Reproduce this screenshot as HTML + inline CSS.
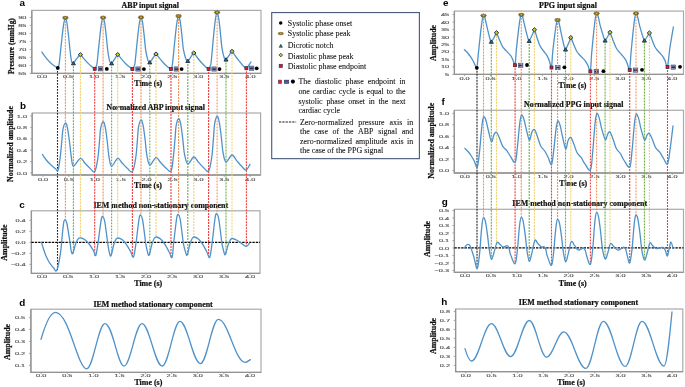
<!DOCTYPE html>
<html><head><meta charset="utf-8"><title>IEM figure</title>
<style>html,body{margin:0;padding:0;background:#fff;width:685px;height:387px;overflow:hidden;}svg{display:block;will-change:transform;}</style>
</head><body>
<svg width="685" height="387" viewBox="0 0 685 387">
<style>.tk{font-family:"Liberation Sans",sans-serif;fill:#555;stroke:#555;stroke-width:0.12px;}.tt{font-family:"Liberation Serif",serif;font-weight:bold;fill:#111;stroke:#111;stroke-width:0.22px;}.lt{font-family:"Liberation Sans",sans-serif;font-weight:bold;font-size:9.9px;fill:#000;}.lg{font-family:"Liberation Serif",serif;font-size:7.95px;fill:#111;stroke:#111;stroke-width:0.08px;}</style>
<rect width="685" height="387" fill="#fff"/>
<rect x="31.8" y="10.4" width="229.2" height="63" fill="none" stroke="#aaaaaa" stroke-width="1.2"/>
<path d="M31.8,10.4 V73.4 H261" fill="none" stroke="#939393" stroke-width="1.3"/>
<rect x="32.2" y="113" width="228.4" height="62" fill="none" stroke="#aaaaaa" stroke-width="1.2"/>
<path d="M32.2,113 V175 H260.6" fill="none" stroke="#939393" stroke-width="1.3"/>
<rect x="31.4" y="210.8" width="228.6" height="62.6" fill="none" stroke="#aaaaaa" stroke-width="1.2"/>
<path d="M31.4,210.8 V273.4 H260" fill="none" stroke="#939393" stroke-width="1.3"/>
<rect x="30.9" y="309.2" width="230.1" height="63.2" fill="none" stroke="#aaaaaa" stroke-width="1.2"/>
<path d="M30.9,309.2 V372.4 H261" fill="none" stroke="#939393" stroke-width="1.3"/>
<rect x="454.4" y="11.1" width="229.1" height="63.3" fill="none" stroke="#aaaaaa" stroke-width="1.2"/>
<path d="M454.4,11.1 V74.4 H683.5" fill="none" stroke="#939393" stroke-width="1.3"/>
<rect x="454.3" y="110.3" width="229.2" height="62.7" fill="none" stroke="#aaaaaa" stroke-width="1.2"/>
<path d="M454.3,110.3 V173 H683.5" fill="none" stroke="#939393" stroke-width="1.3"/>
<rect x="454.4" y="209.3" width="229.1" height="63" fill="none" stroke="#aaaaaa" stroke-width="1.2"/>
<path d="M454.4,209.3 V272.3 H683.5" fill="none" stroke="#939393" stroke-width="1.3"/>
<rect x="455.6" y="309" width="227.2" height="62.7" fill="none" stroke="#aaaaaa" stroke-width="1.2"/>
<path d="M455.6,309 V371.7 H682.8" fill="none" stroke="#939393" stroke-width="1.3"/>
<line x1="29.8" y1="73.4" x2="31.8" y2="73.4" stroke="#939393" stroke-width="0.8"/>
<text x="26.4" y="74.9" text-anchor="end" font-size="3.6" textLength="8.2" lengthAdjust="spacingAndGlyphs" class="tk">55</text>
<line x1="29.8" y1="65.4" x2="31.8" y2="65.4" stroke="#939393" stroke-width="0.8"/>
<text x="26.4" y="66.9" text-anchor="end" font-size="3.6" textLength="8.2" lengthAdjust="spacingAndGlyphs" class="tk">60</text>
<line x1="29.8" y1="57.4" x2="31.8" y2="57.4" stroke="#939393" stroke-width="0.8"/>
<text x="26.4" y="58.9" text-anchor="end" font-size="3.6" textLength="8.2" lengthAdjust="spacingAndGlyphs" class="tk">65</text>
<line x1="29.8" y1="49.4" x2="31.8" y2="49.4" stroke="#939393" stroke-width="0.8"/>
<text x="26.4" y="50.9" text-anchor="end" font-size="3.6" textLength="8.2" lengthAdjust="spacingAndGlyphs" class="tk">70</text>
<line x1="29.8" y1="41.4" x2="31.8" y2="41.4" stroke="#939393" stroke-width="0.8"/>
<text x="26.4" y="42.9" text-anchor="end" font-size="3.6" textLength="8.2" lengthAdjust="spacingAndGlyphs" class="tk">75</text>
<line x1="29.8" y1="33.4" x2="31.8" y2="33.4" stroke="#939393" stroke-width="0.8"/>
<text x="26.4" y="34.9" text-anchor="end" font-size="3.6" textLength="8.2" lengthAdjust="spacingAndGlyphs" class="tk">80</text>
<line x1="29.8" y1="25.4" x2="31.8" y2="25.4" stroke="#939393" stroke-width="0.8"/>
<text x="26.4" y="26.9" text-anchor="end" font-size="3.6" textLength="8.2" lengthAdjust="spacingAndGlyphs" class="tk">85</text>
<line x1="29.8" y1="17.4" x2="31.8" y2="17.4" stroke="#939393" stroke-width="0.8"/>
<text x="26.4" y="18.9" text-anchor="end" font-size="3.6" textLength="8.2" lengthAdjust="spacingAndGlyphs" class="tk">90</text>
<line x1="30.2" y1="173" x2="32.2" y2="173" stroke="#939393" stroke-width="0.8"/>
<text x="27" y="174.5" text-anchor="end" font-size="3.6" textLength="10.2" lengthAdjust="spacingAndGlyphs" class="tk">0.0</text>
<line x1="30.2" y1="161.6" x2="32.2" y2="161.6" stroke="#939393" stroke-width="0.8"/>
<text x="27" y="163.1" text-anchor="end" font-size="3.6" textLength="10.2" lengthAdjust="spacingAndGlyphs" class="tk">0.2</text>
<line x1="30.2" y1="150.2" x2="32.2" y2="150.2" stroke="#939393" stroke-width="0.8"/>
<text x="27" y="151.7" text-anchor="end" font-size="3.6" textLength="10.2" lengthAdjust="spacingAndGlyphs" class="tk">0.4</text>
<line x1="30.2" y1="138.8" x2="32.2" y2="138.8" stroke="#939393" stroke-width="0.8"/>
<text x="27" y="140.3" text-anchor="end" font-size="3.6" textLength="10.2" lengthAdjust="spacingAndGlyphs" class="tk">0.6</text>
<line x1="30.2" y1="127.4" x2="32.2" y2="127.4" stroke="#939393" stroke-width="0.8"/>
<text x="27" y="128.9" text-anchor="end" font-size="3.6" textLength="10.2" lengthAdjust="spacingAndGlyphs" class="tk">0.8</text>
<line x1="30.2" y1="116" x2="32.2" y2="116" stroke="#939393" stroke-width="0.8"/>
<text x="27" y="117.5" text-anchor="end" font-size="3.6" textLength="10.2" lengthAdjust="spacingAndGlyphs" class="tk">1.0</text>
<line x1="29.4" y1="264.4" x2="31.4" y2="264.4" stroke="#939393" stroke-width="0.8"/>
<text x="25.6" y="265.9" text-anchor="end" font-size="3.6" textLength="14.7" lengthAdjust="spacingAndGlyphs" class="tk">−0.4</text>
<line x1="29.4" y1="253.4" x2="31.4" y2="253.4" stroke="#939393" stroke-width="0.8"/>
<text x="25.6" y="254.9" text-anchor="end" font-size="3.6" textLength="14.7" lengthAdjust="spacingAndGlyphs" class="tk">−0.2</text>
<line x1="29.4" y1="242.4" x2="31.4" y2="242.4" stroke="#939393" stroke-width="0.8"/>
<text x="25.6" y="243.9" text-anchor="end" font-size="3.6" textLength="10.2" lengthAdjust="spacingAndGlyphs" class="tk">0.0</text>
<line x1="29.4" y1="231.4" x2="31.4" y2="231.4" stroke="#939393" stroke-width="0.8"/>
<text x="25.6" y="232.9" text-anchor="end" font-size="3.6" textLength="10.2" lengthAdjust="spacingAndGlyphs" class="tk">0.2</text>
<line x1="29.4" y1="220.4" x2="31.4" y2="220.4" stroke="#939393" stroke-width="0.8"/>
<text x="25.6" y="221.9" text-anchor="end" font-size="3.6" textLength="10.2" lengthAdjust="spacingAndGlyphs" class="tk">0.4</text>
<line x1="28.9" y1="365.4" x2="30.9" y2="365.4" stroke="#939393" stroke-width="0.8"/>
<text x="25.2" y="366.9" text-anchor="end" font-size="3.6" textLength="10.2" lengthAdjust="spacingAndGlyphs" class="tk">0.1</text>
<line x1="28.9" y1="353.4" x2="30.9" y2="353.4" stroke="#939393" stroke-width="0.8"/>
<text x="25.2" y="354.9" text-anchor="end" font-size="3.6" textLength="10.2" lengthAdjust="spacingAndGlyphs" class="tk">0.2</text>
<line x1="28.9" y1="341.4" x2="30.9" y2="341.4" stroke="#939393" stroke-width="0.8"/>
<text x="25.2" y="342.9" text-anchor="end" font-size="3.6" textLength="10.2" lengthAdjust="spacingAndGlyphs" class="tk">0.3</text>
<line x1="28.9" y1="329.4" x2="30.9" y2="329.4" stroke="#939393" stroke-width="0.8"/>
<text x="25.2" y="330.9" text-anchor="end" font-size="3.6" textLength="10.2" lengthAdjust="spacingAndGlyphs" class="tk">0.4</text>
<line x1="28.9" y1="317.4" x2="30.9" y2="317.4" stroke="#939393" stroke-width="0.8"/>
<text x="25.2" y="318.9" text-anchor="end" font-size="3.6" textLength="10.2" lengthAdjust="spacingAndGlyphs" class="tk">0.5</text>
<line x1="452.4" y1="74.4" x2="454.4" y2="74.4" stroke="#939393" stroke-width="0.8"/>
<text x="449.2" y="75.9" text-anchor="end" font-size="3.6" textLength="4.1" lengthAdjust="spacingAndGlyphs" class="tk">5</text>
<line x1="452.4" y1="66.93" x2="454.4" y2="66.93" stroke="#939393" stroke-width="0.8"/>
<text x="449.2" y="68.43" text-anchor="end" font-size="3.6" textLength="8.2" lengthAdjust="spacingAndGlyphs" class="tk">10</text>
<line x1="452.4" y1="59.45" x2="454.4" y2="59.45" stroke="#939393" stroke-width="0.8"/>
<text x="449.2" y="60.95" text-anchor="end" font-size="3.6" textLength="8.2" lengthAdjust="spacingAndGlyphs" class="tk">15</text>
<line x1="452.4" y1="51.98" x2="454.4" y2="51.98" stroke="#939393" stroke-width="0.8"/>
<text x="449.2" y="53.48" text-anchor="end" font-size="3.6" textLength="8.2" lengthAdjust="spacingAndGlyphs" class="tk">20</text>
<line x1="452.4" y1="44.5" x2="454.4" y2="44.5" stroke="#939393" stroke-width="0.8"/>
<text x="449.2" y="46" text-anchor="end" font-size="3.6" textLength="8.2" lengthAdjust="spacingAndGlyphs" class="tk">25</text>
<line x1="452.4" y1="37.03" x2="454.4" y2="37.03" stroke="#939393" stroke-width="0.8"/>
<text x="449.2" y="38.53" text-anchor="end" font-size="3.6" textLength="8.2" lengthAdjust="spacingAndGlyphs" class="tk">30</text>
<line x1="452.4" y1="29.55" x2="454.4" y2="29.55" stroke="#939393" stroke-width="0.8"/>
<text x="449.2" y="31.05" text-anchor="end" font-size="3.6" textLength="8.2" lengthAdjust="spacingAndGlyphs" class="tk">35</text>
<line x1="452.4" y1="22.08" x2="454.4" y2="22.08" stroke="#939393" stroke-width="0.8"/>
<text x="449.2" y="23.58" text-anchor="end" font-size="3.6" textLength="8.2" lengthAdjust="spacingAndGlyphs" class="tk">40</text>
<line x1="452.4" y1="14.6" x2="454.4" y2="14.6" stroke="#939393" stroke-width="0.8"/>
<text x="449.2" y="16.1" text-anchor="end" font-size="3.6" textLength="8.2" lengthAdjust="spacingAndGlyphs" class="tk">45</text>
<line x1="452.3" y1="170.4" x2="454.3" y2="170.4" stroke="#939393" stroke-width="0.8"/>
<text x="449.2" y="171.9" text-anchor="end" font-size="3.6" textLength="10.2" lengthAdjust="spacingAndGlyphs" class="tk">0.0</text>
<line x1="452.3" y1="159" x2="454.3" y2="159" stroke="#939393" stroke-width="0.8"/>
<text x="449.2" y="160.5" text-anchor="end" font-size="3.6" textLength="10.2" lengthAdjust="spacingAndGlyphs" class="tk">0.2</text>
<line x1="452.3" y1="147.6" x2="454.3" y2="147.6" stroke="#939393" stroke-width="0.8"/>
<text x="449.2" y="149.1" text-anchor="end" font-size="3.6" textLength="10.2" lengthAdjust="spacingAndGlyphs" class="tk">0.4</text>
<line x1="452.3" y1="136.2" x2="454.3" y2="136.2" stroke="#939393" stroke-width="0.8"/>
<text x="449.2" y="137.7" text-anchor="end" font-size="3.6" textLength="10.2" lengthAdjust="spacingAndGlyphs" class="tk">0.6</text>
<line x1="452.3" y1="124.8" x2="454.3" y2="124.8" stroke="#939393" stroke-width="0.8"/>
<text x="449.2" y="126.3" text-anchor="end" font-size="3.6" textLength="10.2" lengthAdjust="spacingAndGlyphs" class="tk">0.8</text>
<line x1="452.3" y1="113.4" x2="454.3" y2="113.4" stroke="#939393" stroke-width="0.8"/>
<text x="449.2" y="114.9" text-anchor="end" font-size="3.6" textLength="10.2" lengthAdjust="spacingAndGlyphs" class="tk">1.0</text>
<line x1="452.4" y1="270.5" x2="454.4" y2="270.5" stroke="#939393" stroke-width="0.8"/>
<text x="449.2" y="272" text-anchor="end" font-size="3.6" textLength="14.7" lengthAdjust="spacingAndGlyphs" class="tk">−0.3</text>
<line x1="452.4" y1="263" x2="454.4" y2="263" stroke="#939393" stroke-width="0.8"/>
<text x="449.2" y="264.5" text-anchor="end" font-size="3.6" textLength="14.7" lengthAdjust="spacingAndGlyphs" class="tk">−0.2</text>
<line x1="452.4" y1="255.5" x2="454.4" y2="255.5" stroke="#939393" stroke-width="0.8"/>
<text x="449.2" y="257" text-anchor="end" font-size="3.6" textLength="14.7" lengthAdjust="spacingAndGlyphs" class="tk">−0.1</text>
<line x1="452.4" y1="248" x2="454.4" y2="248" stroke="#939393" stroke-width="0.8"/>
<text x="449.2" y="249.5" text-anchor="end" font-size="3.6" textLength="10.2" lengthAdjust="spacingAndGlyphs" class="tk">0.0</text>
<line x1="452.4" y1="240.5" x2="454.4" y2="240.5" stroke="#939393" stroke-width="0.8"/>
<text x="449.2" y="242" text-anchor="end" font-size="3.6" textLength="10.2" lengthAdjust="spacingAndGlyphs" class="tk">0.1</text>
<line x1="452.4" y1="233" x2="454.4" y2="233" stroke="#939393" stroke-width="0.8"/>
<text x="449.2" y="234.5" text-anchor="end" font-size="3.6" textLength="10.2" lengthAdjust="spacingAndGlyphs" class="tk">0.2</text>
<line x1="452.4" y1="225.5" x2="454.4" y2="225.5" stroke="#939393" stroke-width="0.8"/>
<text x="449.2" y="227" text-anchor="end" font-size="3.6" textLength="10.2" lengthAdjust="spacingAndGlyphs" class="tk">0.3</text>
<line x1="452.4" y1="218" x2="454.4" y2="218" stroke="#939393" stroke-width="0.8"/>
<text x="449.2" y="219.5" text-anchor="end" font-size="3.6" textLength="10.2" lengthAdjust="spacingAndGlyphs" class="tk">0.4</text>
<line x1="452.4" y1="210.5" x2="454.4" y2="210.5" stroke="#939393" stroke-width="0.8"/>
<text x="449.2" y="212" text-anchor="end" font-size="3.6" textLength="10.2" lengthAdjust="spacingAndGlyphs" class="tk">0.5</text>
<line x1="453.6" y1="365.4" x2="455.6" y2="365.4" stroke="#939393" stroke-width="0.8"/>
<text x="450" y="366.9" text-anchor="end" font-size="3.6" textLength="10.2" lengthAdjust="spacingAndGlyphs" class="tk">0.2</text>
<line x1="453.6" y1="356.4" x2="455.6" y2="356.4" stroke="#939393" stroke-width="0.8"/>
<text x="450" y="357.9" text-anchor="end" font-size="3.6" textLength="10.2" lengthAdjust="spacingAndGlyphs" class="tk">0.3</text>
<line x1="453.6" y1="347.4" x2="455.6" y2="347.4" stroke="#939393" stroke-width="0.8"/>
<text x="450" y="348.9" text-anchor="end" font-size="3.6" textLength="10.2" lengthAdjust="spacingAndGlyphs" class="tk">0.4</text>
<line x1="453.6" y1="338.4" x2="455.6" y2="338.4" stroke="#939393" stroke-width="0.8"/>
<text x="450" y="339.9" text-anchor="end" font-size="3.6" textLength="10.2" lengthAdjust="spacingAndGlyphs" class="tk">0.5</text>
<line x1="453.6" y1="329.4" x2="455.6" y2="329.4" stroke="#939393" stroke-width="0.8"/>
<text x="450" y="330.9" text-anchor="end" font-size="3.6" textLength="10.2" lengthAdjust="spacingAndGlyphs" class="tk">0.6</text>
<line x1="453.6" y1="320.4" x2="455.6" y2="320.4" stroke="#939393" stroke-width="0.8"/>
<text x="450" y="321.9" text-anchor="end" font-size="3.6" textLength="10.2" lengthAdjust="spacingAndGlyphs" class="tk">0.7</text>
<line x1="453.6" y1="311.4" x2="455.6" y2="311.4" stroke="#939393" stroke-width="0.8"/>
<text x="450" y="312.9" text-anchor="end" font-size="3.6" textLength="10.2" lengthAdjust="spacingAndGlyphs" class="tk">0.8</text>
<line x1="42" y1="73.4" x2="42" y2="75.2" stroke="#939393" stroke-width="0.8"/>
<text x="42" y="78.3" text-anchor="middle" font-size="3.6" textLength="10.2" lengthAdjust="spacingAndGlyphs" class="tk">0.0</text>
<line x1="68.05" y1="73.4" x2="68.05" y2="75.2" stroke="#939393" stroke-width="0.8"/>
<text x="68.05" y="78.3" text-anchor="middle" font-size="3.6" textLength="10.2" lengthAdjust="spacingAndGlyphs" class="tk">0.5</text>
<line x1="94.1" y1="73.4" x2="94.1" y2="75.2" stroke="#939393" stroke-width="0.8"/>
<text x="94.1" y="78.3" text-anchor="middle" font-size="3.6" textLength="10.2" lengthAdjust="spacingAndGlyphs" class="tk">1.0</text>
<line x1="120.15" y1="73.4" x2="120.15" y2="75.2" stroke="#939393" stroke-width="0.8"/>
<text x="120.15" y="78.3" text-anchor="middle" font-size="3.6" textLength="10.2" lengthAdjust="spacingAndGlyphs" class="tk">1.5</text>
<line x1="146.2" y1="73.4" x2="146.2" y2="75.2" stroke="#939393" stroke-width="0.8"/>
<text x="146.2" y="78.3" text-anchor="middle" font-size="3.6" textLength="10.2" lengthAdjust="spacingAndGlyphs" class="tk">2.0</text>
<line x1="172.25" y1="73.4" x2="172.25" y2="75.2" stroke="#939393" stroke-width="0.8"/>
<text x="172.25" y="78.3" text-anchor="middle" font-size="3.6" textLength="10.2" lengthAdjust="spacingAndGlyphs" class="tk">2.5</text>
<line x1="198.3" y1="73.4" x2="198.3" y2="75.2" stroke="#939393" stroke-width="0.8"/>
<text x="198.3" y="78.3" text-anchor="middle" font-size="3.6" textLength="10.2" lengthAdjust="spacingAndGlyphs" class="tk">3.0</text>
<line x1="224.35" y1="73.4" x2="224.35" y2="75.2" stroke="#939393" stroke-width="0.8"/>
<text x="224.35" y="78.3" text-anchor="middle" font-size="3.6" textLength="10.2" lengthAdjust="spacingAndGlyphs" class="tk">3.5</text>
<line x1="250.4" y1="73.4" x2="250.4" y2="75.2" stroke="#939393" stroke-width="0.8"/>
<text x="250.4" y="78.3" text-anchor="middle" font-size="3.6" textLength="10.2" lengthAdjust="spacingAndGlyphs" class="tk">4.0</text>
<line x1="43" y1="175" x2="43" y2="176.8" stroke="#939393" stroke-width="0.8"/>
<text x="43" y="180.7" text-anchor="middle" font-size="3.6" textLength="10.2" lengthAdjust="spacingAndGlyphs" class="tk">0.0</text>
<line x1="68.9" y1="175" x2="68.9" y2="176.8" stroke="#939393" stroke-width="0.8"/>
<text x="68.9" y="180.7" text-anchor="middle" font-size="3.6" textLength="10.2" lengthAdjust="spacingAndGlyphs" class="tk">0.5</text>
<line x1="94.8" y1="175" x2="94.8" y2="176.8" stroke="#939393" stroke-width="0.8"/>
<text x="94.8" y="180.7" text-anchor="middle" font-size="3.6" textLength="10.2" lengthAdjust="spacingAndGlyphs" class="tk">1.0</text>
<line x1="120.7" y1="175" x2="120.7" y2="176.8" stroke="#939393" stroke-width="0.8"/>
<text x="120.7" y="180.7" text-anchor="middle" font-size="3.6" textLength="10.2" lengthAdjust="spacingAndGlyphs" class="tk">1.5</text>
<line x1="146.6" y1="175" x2="146.6" y2="176.8" stroke="#939393" stroke-width="0.8"/>
<text x="146.6" y="180.7" text-anchor="middle" font-size="3.6" textLength="10.2" lengthAdjust="spacingAndGlyphs" class="tk">2.0</text>
<line x1="172.5" y1="175" x2="172.5" y2="176.8" stroke="#939393" stroke-width="0.8"/>
<text x="172.5" y="180.7" text-anchor="middle" font-size="3.6" textLength="10.2" lengthAdjust="spacingAndGlyphs" class="tk">2.5</text>
<line x1="198.4" y1="175" x2="198.4" y2="176.8" stroke="#939393" stroke-width="0.8"/>
<text x="198.4" y="180.7" text-anchor="middle" font-size="3.6" textLength="10.2" lengthAdjust="spacingAndGlyphs" class="tk">3.0</text>
<line x1="224.3" y1="175" x2="224.3" y2="176.8" stroke="#939393" stroke-width="0.8"/>
<text x="224.3" y="180.7" text-anchor="middle" font-size="3.6" textLength="10.2" lengthAdjust="spacingAndGlyphs" class="tk">3.5</text>
<line x1="250.2" y1="175" x2="250.2" y2="176.8" stroke="#939393" stroke-width="0.8"/>
<text x="250.2" y="180.7" text-anchor="middle" font-size="3.6" textLength="10.2" lengthAdjust="spacingAndGlyphs" class="tk">4.0</text>
<line x1="42" y1="273.4" x2="42" y2="275.2" stroke="#939393" stroke-width="0.8"/>
<text x="42" y="278.3" text-anchor="middle" font-size="3.6" textLength="10.2" lengthAdjust="spacingAndGlyphs" class="tk">0.0</text>
<line x1="68" y1="273.4" x2="68" y2="275.2" stroke="#939393" stroke-width="0.8"/>
<text x="68" y="278.3" text-anchor="middle" font-size="3.6" textLength="10.2" lengthAdjust="spacingAndGlyphs" class="tk">0.5</text>
<line x1="94" y1="273.4" x2="94" y2="275.2" stroke="#939393" stroke-width="0.8"/>
<text x="94" y="278.3" text-anchor="middle" font-size="3.6" textLength="10.2" lengthAdjust="spacingAndGlyphs" class="tk">1.0</text>
<line x1="120" y1="273.4" x2="120" y2="275.2" stroke="#939393" stroke-width="0.8"/>
<text x="120" y="278.3" text-anchor="middle" font-size="3.6" textLength="10.2" lengthAdjust="spacingAndGlyphs" class="tk">1.5</text>
<line x1="146" y1="273.4" x2="146" y2="275.2" stroke="#939393" stroke-width="0.8"/>
<text x="146" y="278.3" text-anchor="middle" font-size="3.6" textLength="10.2" lengthAdjust="spacingAndGlyphs" class="tk">2.0</text>
<line x1="172" y1="273.4" x2="172" y2="275.2" stroke="#939393" stroke-width="0.8"/>
<text x="172" y="278.3" text-anchor="middle" font-size="3.6" textLength="10.2" lengthAdjust="spacingAndGlyphs" class="tk">2.5</text>
<line x1="198" y1="273.4" x2="198" y2="275.2" stroke="#939393" stroke-width="0.8"/>
<text x="198" y="278.3" text-anchor="middle" font-size="3.6" textLength="10.2" lengthAdjust="spacingAndGlyphs" class="tk">3.0</text>
<line x1="224" y1="273.4" x2="224" y2="275.2" stroke="#939393" stroke-width="0.8"/>
<text x="224" y="278.3" text-anchor="middle" font-size="3.6" textLength="10.2" lengthAdjust="spacingAndGlyphs" class="tk">3.5</text>
<line x1="250" y1="273.4" x2="250" y2="275.2" stroke="#939393" stroke-width="0.8"/>
<text x="250" y="278.3" text-anchor="middle" font-size="3.6" textLength="10.2" lengthAdjust="spacingAndGlyphs" class="tk">4.0</text>
<line x1="41.2" y1="372.4" x2="41.2" y2="374.2" stroke="#939393" stroke-width="0.8"/>
<text x="41.2" y="377.2" text-anchor="middle" font-size="3.6" textLength="10.2" lengthAdjust="spacingAndGlyphs" class="tk">0.0</text>
<line x1="67.3" y1="372.4" x2="67.3" y2="374.2" stroke="#939393" stroke-width="0.8"/>
<text x="67.3" y="377.2" text-anchor="middle" font-size="3.6" textLength="10.2" lengthAdjust="spacingAndGlyphs" class="tk">0.5</text>
<line x1="93.4" y1="372.4" x2="93.4" y2="374.2" stroke="#939393" stroke-width="0.8"/>
<text x="93.4" y="377.2" text-anchor="middle" font-size="3.6" textLength="10.2" lengthAdjust="spacingAndGlyphs" class="tk">1.0</text>
<line x1="119.5" y1="372.4" x2="119.5" y2="374.2" stroke="#939393" stroke-width="0.8"/>
<text x="119.5" y="377.2" text-anchor="middle" font-size="3.6" textLength="10.2" lengthAdjust="spacingAndGlyphs" class="tk">1.5</text>
<line x1="145.6" y1="372.4" x2="145.6" y2="374.2" stroke="#939393" stroke-width="0.8"/>
<text x="145.6" y="377.2" text-anchor="middle" font-size="3.6" textLength="10.2" lengthAdjust="spacingAndGlyphs" class="tk">2.0</text>
<line x1="171.7" y1="372.4" x2="171.7" y2="374.2" stroke="#939393" stroke-width="0.8"/>
<text x="171.7" y="377.2" text-anchor="middle" font-size="3.6" textLength="10.2" lengthAdjust="spacingAndGlyphs" class="tk">2.5</text>
<line x1="197.8" y1="372.4" x2="197.8" y2="374.2" stroke="#939393" stroke-width="0.8"/>
<text x="197.8" y="377.2" text-anchor="middle" font-size="3.6" textLength="10.2" lengthAdjust="spacingAndGlyphs" class="tk">3.0</text>
<line x1="223.9" y1="372.4" x2="223.9" y2="374.2" stroke="#939393" stroke-width="0.8"/>
<text x="223.9" y="377.2" text-anchor="middle" font-size="3.6" textLength="10.2" lengthAdjust="spacingAndGlyphs" class="tk">3.5</text>
<line x1="250" y1="372.4" x2="250" y2="374.2" stroke="#939393" stroke-width="0.8"/>
<text x="250" y="377.2" text-anchor="middle" font-size="3.6" textLength="10.2" lengthAdjust="spacingAndGlyphs" class="tk">4.0</text>
<line x1="464.6" y1="74.4" x2="464.6" y2="76.2" stroke="#939393" stroke-width="0.8"/>
<text x="464.6" y="79.7" text-anchor="middle" font-size="3.6" textLength="10.2" lengthAdjust="spacingAndGlyphs" class="tk">0.0</text>
<line x1="490.55" y1="74.4" x2="490.55" y2="76.2" stroke="#939393" stroke-width="0.8"/>
<text x="490.55" y="79.7" text-anchor="middle" font-size="3.6" textLength="10.2" lengthAdjust="spacingAndGlyphs" class="tk">0.5</text>
<line x1="516.5" y1="74.4" x2="516.5" y2="76.2" stroke="#939393" stroke-width="0.8"/>
<text x="516.5" y="79.7" text-anchor="middle" font-size="3.6" textLength="10.2" lengthAdjust="spacingAndGlyphs" class="tk">1.0</text>
<line x1="542.45" y1="74.4" x2="542.45" y2="76.2" stroke="#939393" stroke-width="0.8"/>
<text x="542.45" y="79.7" text-anchor="middle" font-size="3.6" textLength="10.2" lengthAdjust="spacingAndGlyphs" class="tk">1.5</text>
<line x1="568.4" y1="74.4" x2="568.4" y2="76.2" stroke="#939393" stroke-width="0.8"/>
<text x="568.4" y="79.7" text-anchor="middle" font-size="3.6" textLength="10.2" lengthAdjust="spacingAndGlyphs" class="tk">2.0</text>
<line x1="594.35" y1="74.4" x2="594.35" y2="76.2" stroke="#939393" stroke-width="0.8"/>
<text x="594.35" y="79.7" text-anchor="middle" font-size="3.6" textLength="10.2" lengthAdjust="spacingAndGlyphs" class="tk">2.5</text>
<line x1="620.3" y1="74.4" x2="620.3" y2="76.2" stroke="#939393" stroke-width="0.8"/>
<text x="620.3" y="79.7" text-anchor="middle" font-size="3.6" textLength="10.2" lengthAdjust="spacingAndGlyphs" class="tk">3.0</text>
<line x1="646.25" y1="74.4" x2="646.25" y2="76.2" stroke="#939393" stroke-width="0.8"/>
<text x="646.25" y="79.7" text-anchor="middle" font-size="3.6" textLength="10.2" lengthAdjust="spacingAndGlyphs" class="tk">3.5</text>
<line x1="672.2" y1="74.4" x2="672.2" y2="76.2" stroke="#939393" stroke-width="0.8"/>
<text x="672.2" y="79.7" text-anchor="middle" font-size="3.6" textLength="10.2" lengthAdjust="spacingAndGlyphs" class="tk">4.0</text>
<line x1="464.8" y1="173" x2="464.8" y2="174.8" stroke="#939393" stroke-width="0.8"/>
<text x="464.8" y="178.1" text-anchor="middle" font-size="3.6" textLength="10.2" lengthAdjust="spacingAndGlyphs" class="tk">0.0</text>
<line x1="490.75" y1="173" x2="490.75" y2="174.8" stroke="#939393" stroke-width="0.8"/>
<text x="490.75" y="178.1" text-anchor="middle" font-size="3.6" textLength="10.2" lengthAdjust="spacingAndGlyphs" class="tk">0.5</text>
<line x1="516.7" y1="173" x2="516.7" y2="174.8" stroke="#939393" stroke-width="0.8"/>
<text x="516.7" y="178.1" text-anchor="middle" font-size="3.6" textLength="10.2" lengthAdjust="spacingAndGlyphs" class="tk">1.0</text>
<line x1="542.65" y1="173" x2="542.65" y2="174.8" stroke="#939393" stroke-width="0.8"/>
<text x="542.65" y="178.1" text-anchor="middle" font-size="3.6" textLength="10.2" lengthAdjust="spacingAndGlyphs" class="tk">1.5</text>
<line x1="568.6" y1="173" x2="568.6" y2="174.8" stroke="#939393" stroke-width="0.8"/>
<text x="568.6" y="178.1" text-anchor="middle" font-size="3.6" textLength="10.2" lengthAdjust="spacingAndGlyphs" class="tk">2.0</text>
<line x1="594.55" y1="173" x2="594.55" y2="174.8" stroke="#939393" stroke-width="0.8"/>
<text x="594.55" y="178.1" text-anchor="middle" font-size="3.6" textLength="10.2" lengthAdjust="spacingAndGlyphs" class="tk">2.5</text>
<line x1="620.5" y1="173" x2="620.5" y2="174.8" stroke="#939393" stroke-width="0.8"/>
<text x="620.5" y="178.1" text-anchor="middle" font-size="3.6" textLength="10.2" lengthAdjust="spacingAndGlyphs" class="tk">3.0</text>
<line x1="646.45" y1="173" x2="646.45" y2="174.8" stroke="#939393" stroke-width="0.8"/>
<text x="646.45" y="178.1" text-anchor="middle" font-size="3.6" textLength="10.2" lengthAdjust="spacingAndGlyphs" class="tk">3.5</text>
<line x1="672.4" y1="173" x2="672.4" y2="174.8" stroke="#939393" stroke-width="0.8"/>
<text x="672.4" y="178.1" text-anchor="middle" font-size="3.6" textLength="10.2" lengthAdjust="spacingAndGlyphs" class="tk">4.0</text>
<line x1="465" y1="272.3" x2="465" y2="274.1" stroke="#939393" stroke-width="0.8"/>
<text x="465" y="277.1" text-anchor="middle" font-size="3.6" textLength="10.2" lengthAdjust="spacingAndGlyphs" class="tk">0.0</text>
<line x1="490.9" y1="272.3" x2="490.9" y2="274.1" stroke="#939393" stroke-width="0.8"/>
<text x="490.9" y="277.1" text-anchor="middle" font-size="3.6" textLength="10.2" lengthAdjust="spacingAndGlyphs" class="tk">0.5</text>
<line x1="516.8" y1="272.3" x2="516.8" y2="274.1" stroke="#939393" stroke-width="0.8"/>
<text x="516.8" y="277.1" text-anchor="middle" font-size="3.6" textLength="10.2" lengthAdjust="spacingAndGlyphs" class="tk">1.0</text>
<line x1="542.7" y1="272.3" x2="542.7" y2="274.1" stroke="#939393" stroke-width="0.8"/>
<text x="542.7" y="277.1" text-anchor="middle" font-size="3.6" textLength="10.2" lengthAdjust="spacingAndGlyphs" class="tk">1.5</text>
<line x1="568.6" y1="272.3" x2="568.6" y2="274.1" stroke="#939393" stroke-width="0.8"/>
<text x="568.6" y="277.1" text-anchor="middle" font-size="3.6" textLength="10.2" lengthAdjust="spacingAndGlyphs" class="tk">2.0</text>
<line x1="594.5" y1="272.3" x2="594.5" y2="274.1" stroke="#939393" stroke-width="0.8"/>
<text x="594.5" y="277.1" text-anchor="middle" font-size="3.6" textLength="10.2" lengthAdjust="spacingAndGlyphs" class="tk">2.5</text>
<line x1="620.4" y1="272.3" x2="620.4" y2="274.1" stroke="#939393" stroke-width="0.8"/>
<text x="620.4" y="277.1" text-anchor="middle" font-size="3.6" textLength="10.2" lengthAdjust="spacingAndGlyphs" class="tk">3.0</text>
<line x1="646.3" y1="272.3" x2="646.3" y2="274.1" stroke="#939393" stroke-width="0.8"/>
<text x="646.3" y="277.1" text-anchor="middle" font-size="3.6" textLength="10.2" lengthAdjust="spacingAndGlyphs" class="tk">3.5</text>
<line x1="672.2" y1="272.3" x2="672.2" y2="274.1" stroke="#939393" stroke-width="0.8"/>
<text x="672.2" y="277.1" text-anchor="middle" font-size="3.6" textLength="10.2" lengthAdjust="spacingAndGlyphs" class="tk">4.0</text>
<line x1="465.8" y1="371.7" x2="465.8" y2="373.5" stroke="#939393" stroke-width="0.8"/>
<text x="465.8" y="376.9" text-anchor="middle" font-size="3.6" textLength="10.2" lengthAdjust="spacingAndGlyphs" class="tk">0.0</text>
<line x1="491.6" y1="371.7" x2="491.6" y2="373.5" stroke="#939393" stroke-width="0.8"/>
<text x="491.6" y="376.9" text-anchor="middle" font-size="3.6" textLength="10.2" lengthAdjust="spacingAndGlyphs" class="tk">0.5</text>
<line x1="517.4" y1="371.7" x2="517.4" y2="373.5" stroke="#939393" stroke-width="0.8"/>
<text x="517.4" y="376.9" text-anchor="middle" font-size="3.6" textLength="10.2" lengthAdjust="spacingAndGlyphs" class="tk">1.0</text>
<line x1="543.2" y1="371.7" x2="543.2" y2="373.5" stroke="#939393" stroke-width="0.8"/>
<text x="543.2" y="376.9" text-anchor="middle" font-size="3.6" textLength="10.2" lengthAdjust="spacingAndGlyphs" class="tk">1.5</text>
<line x1="569" y1="371.7" x2="569" y2="373.5" stroke="#939393" stroke-width="0.8"/>
<text x="569" y="376.9" text-anchor="middle" font-size="3.6" textLength="10.2" lengthAdjust="spacingAndGlyphs" class="tk">2.0</text>
<line x1="594.8" y1="371.7" x2="594.8" y2="373.5" stroke="#939393" stroke-width="0.8"/>
<text x="594.8" y="376.9" text-anchor="middle" font-size="3.6" textLength="10.2" lengthAdjust="spacingAndGlyphs" class="tk">2.5</text>
<line x1="620.6" y1="371.7" x2="620.6" y2="373.5" stroke="#939393" stroke-width="0.8"/>
<text x="620.6" y="376.9" text-anchor="middle" font-size="3.6" textLength="10.2" lengthAdjust="spacingAndGlyphs" class="tk">3.0</text>
<line x1="646.4" y1="371.7" x2="646.4" y2="373.5" stroke="#939393" stroke-width="0.8"/>
<text x="646.4" y="376.9" text-anchor="middle" font-size="3.6" textLength="10.2" lengthAdjust="spacingAndGlyphs" class="tk">3.5</text>
<line x1="672.2" y1="371.7" x2="672.2" y2="373.5" stroke="#939393" stroke-width="0.8"/>
<text x="672.2" y="376.9" text-anchor="middle" font-size="3.6" textLength="10.2" lengthAdjust="spacingAndGlyphs" class="tk">4.0</text>
<text x="150.3" y="7.62" text-anchor="middle" class="tt" font-size="7.95">ABP input signal</text>
<text x="155.7" y="110.02" text-anchor="middle" class="tt" font-size="7.95">Normalized ABP input signal</text>
<text x="160.8" y="207.92" text-anchor="middle" class="tt" font-size="7.95">IEM method non-stationary component</text>
<text x="153.1" y="306.62" text-anchor="middle" class="tt" font-size="7.95">IEM method stationary component</text>
<text x="568" y="7.62" text-anchor="middle" class="tt" font-size="7.95">PPG input signal</text>
<text x="573.8" y="106.62" text-anchor="middle" class="tt" font-size="7.95">Normalized PPG input signal</text>
<text x="579.7" y="205.62" text-anchor="middle" class="tt" font-size="7.95">IEM method non-stationary component</text>
<text x="578.5" y="304.62" text-anchor="middle" class="tt" font-size="7.95">IEM method stationary component</text>
<text x="148.2" y="85.82" text-anchor="middle" class="tt" font-size="7.95">Time (s)</text>
<text x="148" y="188.02" text-anchor="middle" class="tt" font-size="7.95">Time (s)</text>
<text x="148.2" y="285.62" text-anchor="middle" class="tt" font-size="7.95">Time (s)</text>
<text x="148.4" y="385.22" text-anchor="middle" class="tt" font-size="7.95">Time (s)</text>
<text x="572.5" y="87.62" text-anchor="middle" class="tt" font-size="7.95">Time (s)</text>
<text x="573.3" y="186.02" text-anchor="middle" class="tt" font-size="7.95">Time (s)</text>
<text x="572.7" y="286.42" text-anchor="middle" class="tt" font-size="7.95">Time (s)</text>
<text x="571.2" y="385.22" text-anchor="middle" class="tt" font-size="7.95">Time (s)</text>
<text transform="translate(12,46.2) rotate(-90)" text-anchor="middle" class="tt" font-size="7.45" y="2.46">Pressure (mmHg)</text>
<text transform="translate(10.6,144) rotate(-90)" text-anchor="middle" class="tt" font-size="7.95" y="2.62">Normalized amplitude</text>
<text transform="translate(4,242.6) rotate(-90)" text-anchor="middle" class="tt" font-size="7.95" y="2.62">Amplitude</text>
<text transform="translate(7.5,342) rotate(-90)" text-anchor="middle" class="tt" font-size="7.95" y="2.62">Amplitude</text>
<text transform="translate(433.5,43) rotate(-90)" text-anchor="middle" class="tt" font-size="7.95" y="2.62">Amplitude</text>
<text transform="translate(431.8,140.8) rotate(-90)" text-anchor="middle" class="tt" font-size="7.95" y="2.62">Normalized amplitude</text>
<text transform="translate(427,239) rotate(-90)" text-anchor="middle" class="tt" font-size="7.95" y="2.62">Amplitude</text>
<text transform="translate(433,336) rotate(-90)" text-anchor="middle" class="tt" font-size="7.95" y="2.62">Amplitude</text>
<text x="19.6" y="6.05" class="lt">a</text>
<text x="19.9" y="108.9" class="lt">b</text>
<text x="19.3" y="207.6" class="lt">c</text>
<text x="19.3" y="306" class="lt">d</text>
<text x="442.9" y="6.05" class="lt">e</text>
<text x="441.4" y="105.4" class="lt">f</text>
<text x="441.7" y="204.9" class="lt">g</text>
<text x="441.3" y="304.6" class="lt">h</text>
<line x1="31.4" y1="242.4" x2="260" y2="242.4" stroke="#000" stroke-width="1.25" stroke-dasharray="2.4,1.0"/>
<line x1="454.4" y1="247.95" x2="683.5" y2="247.95" stroke="#000" stroke-width="1.25" stroke-dasharray="2.4,1.0"/>
<rect x="98.2" y="66.7" width="4.6" height="4.2" fill="#8291b4" stroke="#3a4a72" stroke-width="0.6"/>
<rect x="98.8" y="68.2" width="3.4" height="1.5" fill="#1f3062"/>
<rect x="518.3" y="63.2" width="4.6" height="4.2" fill="#8291b4" stroke="#3a4a72" stroke-width="0.6"/>
<rect x="518.9" y="64.7" width="3.4" height="1.5" fill="#1f3062"/>
<rect x="135.8" y="66.9" width="4.6" height="4.2" fill="#8291b4" stroke="#3a4a72" stroke-width="0.6"/>
<rect x="136.4" y="68.4" width="3.4" height="1.5" fill="#1f3062"/>
<rect x="555.5" y="65.5" width="4.6" height="4.2" fill="#8291b4" stroke="#3a4a72" stroke-width="0.6"/>
<rect x="556.1" y="67" width="3.4" height="1.5" fill="#1f3062"/>
<rect x="174.1" y="66.9" width="4.6" height="4.2" fill="#8291b4" stroke="#3a4a72" stroke-width="0.6"/>
<rect x="174.7" y="68.4" width="3.4" height="1.5" fill="#1f3062"/>
<rect x="594.1" y="69.4" width="4.6" height="4.2" fill="#8291b4" stroke="#3a4a72" stroke-width="0.6"/>
<rect x="594.7" y="70.9" width="3.4" height="1.5" fill="#1f3062"/>
<rect x="211.8" y="66.9" width="4.6" height="4.2" fill="#8291b4" stroke="#3a4a72" stroke-width="0.6"/>
<rect x="212.4" y="68.4" width="3.4" height="1.5" fill="#1f3062"/>
<rect x="633.2" y="68" width="4.6" height="4.2" fill="#8291b4" stroke="#3a4a72" stroke-width="0.6"/>
<rect x="633.8" y="69.5" width="3.4" height="1.5" fill="#1f3062"/>
<rect x="249.3" y="66.1" width="4.6" height="4.2" fill="#8291b4" stroke="#3a4a72" stroke-width="0.6"/>
<rect x="249.9" y="67.6" width="3.4" height="1.5" fill="#1f3062"/>
<rect x="671.1" y="65" width="4.6" height="4.2" fill="#8291b4" stroke="#3a4a72" stroke-width="0.6"/>
<rect x="671.7" y="66.5" width="3.4" height="1.5" fill="#1f3062"/>
<line x1="57.5" y1="67.9" x2="57.5" y2="270.3" stroke="#222222" stroke-width="1.1" stroke-dasharray="1.95,1.05"/>
<line x1="65.4" y1="17.8" x2="65.4" y2="219.6" stroke="#ee9256" stroke-width="1.1" stroke-dasharray="1.95,1.05"/>
<line x1="73.4" y1="63.3" x2="73.4" y2="253.4" stroke="#6cb044" stroke-width="1.1" stroke-dasharray="1.95,1.05"/>
<line x1="80.4" y1="54.7" x2="80.4" y2="238" stroke="#f2d068" stroke-width="1.1" stroke-dasharray="1.95,1.05"/>
<line x1="94.7" y1="68.8" x2="94.7" y2="255.4" stroke="#f03c3c" stroke-width="1.1" stroke-dasharray="1.95,1.05"/>
<line x1="103.1" y1="17.6" x2="103.1" y2="216.4" stroke="#ee9256" stroke-width="1.1" stroke-dasharray="1.95,1.05"/>
<line x1="111.6" y1="63.4" x2="111.6" y2="255.6" stroke="#6cb044" stroke-width="1.1" stroke-dasharray="1.95,1.05"/>
<line x1="117.7" y1="54.6" x2="117.7" y2="238" stroke="#f2d068" stroke-width="1.1" stroke-dasharray="1.95,1.05"/>
<line x1="132.4" y1="69" x2="132.4" y2="257" stroke="#f03c3c" stroke-width="1.1" stroke-dasharray="1.95,1.05"/>
<line x1="141" y1="17.3" x2="141" y2="215" stroke="#ee9256" stroke-width="1.1" stroke-dasharray="1.95,1.05"/>
<line x1="149.8" y1="62.4" x2="149.8" y2="255" stroke="#6cb044" stroke-width="1.1" stroke-dasharray="1.95,1.05"/>
<line x1="156" y1="54" x2="156" y2="237" stroke="#f2d068" stroke-width="1.1" stroke-dasharray="1.95,1.05"/>
<line x1="171" y1="69" x2="171" y2="257.4" stroke="#f03c3c" stroke-width="1.1" stroke-dasharray="1.95,1.05"/>
<line x1="178.6" y1="16" x2="178.6" y2="214.4" stroke="#ee9256" stroke-width="1.1" stroke-dasharray="1.95,1.05"/>
<line x1="187.8" y1="61" x2="187.8" y2="255" stroke="#6cb044" stroke-width="1.1" stroke-dasharray="1.95,1.05"/>
<line x1="193.8" y1="53" x2="193.8" y2="237" stroke="#f2d068" stroke-width="1.1" stroke-dasharray="1.95,1.05"/>
<line x1="208.6" y1="69" x2="208.6" y2="257.4" stroke="#f03c3c" stroke-width="1.1" stroke-dasharray="1.95,1.05"/>
<line x1="217.1" y1="12.4" x2="217.1" y2="213.6" stroke="#ee9256" stroke-width="1.1" stroke-dasharray="1.95,1.05"/>
<line x1="226" y1="59.6" x2="226" y2="254.4" stroke="#6cb044" stroke-width="1.1" stroke-dasharray="1.95,1.05"/>
<line x1="232" y1="51.4" x2="232" y2="238.5" stroke="#f2d068" stroke-width="1.1" stroke-dasharray="1.95,1.05"/>
<line x1="246.4" y1="68.2" x2="246.4" y2="246.3" stroke="#f03c3c" stroke-width="1.1" stroke-dasharray="1.95,1.05"/>
<line x1="477" y1="67.8" x2="477" y2="268.7" stroke="#222222" stroke-width="1.1" stroke-dasharray="1.95,1.05"/>
<line x1="483.5" y1="15.6" x2="483.5" y2="217.7" stroke="#ee9256" stroke-width="1.1" stroke-dasharray="1.95,1.05"/>
<line x1="491.3" y1="41.8" x2="491.3" y2="259.2" stroke="#6cb044" stroke-width="1.1" stroke-dasharray="1.95,1.05"/>
<line x1="496.5" y1="32.8" x2="496.5" y2="242.6" stroke="#f2d068" stroke-width="1.1" stroke-dasharray="1.95,1.05"/>
<line x1="515.1" y1="65.2" x2="515.1" y2="263.8" stroke="#f03c3c" stroke-width="1.1" stroke-dasharray="1.95,1.05"/>
<line x1="521.3" y1="14.8" x2="521.3" y2="217.3" stroke="#ee9256" stroke-width="1.1" stroke-dasharray="1.95,1.05"/>
<line x1="529.2" y1="41" x2="529.2" y2="261.4" stroke="#6cb044" stroke-width="1.1" stroke-dasharray="1.95,1.05"/>
<line x1="534.4" y1="29.8" x2="534.4" y2="240.4" stroke="#f2d068" stroke-width="1.1" stroke-dasharray="1.95,1.05"/>
<line x1="551.5" y1="67.5" x2="551.5" y2="265.4" stroke="#f03c3c" stroke-width="1.1" stroke-dasharray="1.95,1.05"/>
<line x1="557.6" y1="20" x2="557.6" y2="219.4" stroke="#ee9256" stroke-width="1.1" stroke-dasharray="1.95,1.05"/>
<line x1="565.5" y1="49.6" x2="565.5" y2="262" stroke="#6cb044" stroke-width="1.1" stroke-dasharray="1.95,1.05"/>
<line x1="570.8" y1="37.6" x2="570.8" y2="241.6" stroke="#f2d068" stroke-width="1.1" stroke-dasharray="1.95,1.05"/>
<line x1="590.4" y1="71.4" x2="590.4" y2="264.4" stroke="#f03c3c" stroke-width="1.1" stroke-dasharray="1.95,1.05"/>
<line x1="596.6" y1="13.4" x2="596.6" y2="212.4" stroke="#ee9256" stroke-width="1.1" stroke-dasharray="1.95,1.05"/>
<line x1="605.1" y1="40.6" x2="605.1" y2="259" stroke="#6cb044" stroke-width="1.1" stroke-dasharray="1.95,1.05"/>
<line x1="610" y1="32.4" x2="610" y2="243.6" stroke="#f2d068" stroke-width="1.1" stroke-dasharray="1.95,1.05"/>
<line x1="629.7" y1="70" x2="629.7" y2="263" stroke="#f03c3c" stroke-width="1.1" stroke-dasharray="1.95,1.05"/>
<line x1="636" y1="13.4" x2="636" y2="215" stroke="#ee9256" stroke-width="1.1" stroke-dasharray="1.95,1.05"/>
<line x1="644.4" y1="40.6" x2="644.4" y2="260" stroke="#6cb044" stroke-width="1.1" stroke-dasharray="1.95,1.05"/>
<line x1="649.4" y1="33" x2="649.4" y2="243" stroke="#f2d068" stroke-width="1.1" stroke-dasharray="1.95,1.05"/>
<line x1="667.5" y1="67" x2="667.5" y2="256" stroke="#f03c3c" stroke-width="1.1" stroke-dasharray="1.95,1.05"/>
<path d="M41.9,52 C42.12,52.32 44.03,55.17 44.5,55.8 C44.97,56.43 46.96,58.98 47.5,59.6 C48.04,60.22 50.42,62.67 51,63.2 C51.58,63.73 53.93,65.61 54.5,66 C55.07,66.39 57.41,68.11 57.8,67.9 C58.19,67.69 58.96,64.99 59.2,63.49 C59.44,61.99 60.44,52.25 60.7,49.86 C60.96,47.48 62.04,37.05 62.3,34.83 C62.56,32.62 63.54,24.73 63.8,23.31 C64.06,21.89 65.13,17.8 65.4,17.8 C65.67,17.8 66.74,21.78 67,23.26 C67.26,24.74 68.24,33.23 68.5,35.55 C68.76,37.86 69.84,48.85 70.1,51.02 C70.36,53.18 71.33,60.46 71.6,61.48 C71.88,62.5 72.99,63.51 73.4,63.3 C73.81,63.09 75.92,59.63 76.5,58.91 C77.08,58.2 79.79,54.72 80.4,54.7 C81.01,54.68 83.19,57.97 83.8,58.65 C84.41,59.33 87.05,62.23 87.7,62.88 C88.35,63.52 91.02,65.91 91.6,66.4 C92.18,66.9 94.26,68.98 94.7,68.8 C95.14,68.62 96.59,65.83 96.9,64.29 C97.21,62.76 98.14,52.81 98.4,50.37 C98.66,47.93 99.74,37.27 100,35.01 C100.26,32.75 101.24,24.68 101.5,23.23 C101.76,21.78 102.83,17.61 103.1,17.6 C103.37,17.59 104.44,21.61 104.7,23.1 C104.96,24.58 105.94,33.13 106.2,35.46 C106.46,37.79 107.5,48.86 107.8,51.03 C108.1,53.21 109.48,60.54 109.8,61.57 C110.12,62.6 111.19,63.62 111.6,63.4 C112.01,63.18 114.19,59.65 114.7,58.91 C115.21,58.18 117.17,54.62 117.7,54.6 C118.23,54.58 120.49,57.94 121.1,58.63 C121.71,59.33 124.35,62.29 125,62.95 C125.65,63.61 128.28,66.05 128.9,66.55 C129.52,67.06 131.91,69.18 132.4,69 C132.89,68.82 134.48,66 134.8,64.45 C135.12,62.9 136.04,52.85 136.3,50.39 C136.56,47.92 137.64,37.16 137.9,34.88 C138.16,32.59 139.14,24.45 139.4,22.99 C139.66,21.52 140.73,17.32 141,17.3 C141.27,17.28 142.34,21.25 142.6,22.71 C142.86,24.18 143.84,32.6 144.1,34.89 C144.36,37.18 145.38,48.08 145.7,50.22 C146.02,52.37 147.66,59.58 148,60.6 C148.34,61.61 149.39,62.61 149.8,62.4 C150.21,62.19 152.38,58.82 152.9,58.12 C153.42,57.42 155.46,53.99 156,54 C156.54,54.01 158.79,57.48 159.4,58.2 C160.01,58.93 162.65,62.01 163.3,62.7 C163.95,63.39 166.56,65.92 167.2,66.45 C167.84,66.98 170.57,69.18 171,69 C171.43,68.82 172.16,65.93 172.4,64.34 C172.64,62.75 173.64,52.45 173.9,49.92 C174.16,47.39 175.24,36.36 175.5,34.02 C175.76,31.68 176.74,23.33 177,21.83 C177.26,20.33 178.33,16.04 178.6,16 C178.87,15.96 179.94,19.94 180.2,21.4 C180.46,22.86 181.44,31.26 181.7,33.55 C181.96,35.84 182.94,46.71 183.3,48.85 C183.66,50.99 185.62,58.19 186,59.2 C186.38,60.21 187.39,61.19 187.8,61 C188.21,60.81 190.4,57.59 190.9,56.92 C191.4,56.25 193.28,52.95 193.8,53 C194.33,53.05 196.59,56.71 197.2,57.48 C197.81,58.25 200.45,61.55 201.1,62.28 C201.75,63.01 204.38,65.72 205,66.28 C205.62,66.84 208.11,69.19 208.6,69 C209.09,68.81 210.58,65.72 210.9,64.02 C211.22,62.32 212.14,51.32 212.4,48.62 C212.66,45.93 213.74,34.14 214,31.64 C214.26,29.14 215.24,20.23 215.5,18.63 C215.76,17.02 216.83,12.45 217.1,12.4 C217.37,12.35 218.44,16.53 218.7,18.06 C218.96,19.6 219.94,28.41 220.2,30.81 C220.46,33.21 221.47,44.61 221.8,46.86 C222.13,49.1 223.85,56.65 224.2,57.71 C224.55,58.77 225.59,59.79 226,59.6 C226.41,59.41 228.6,56.1 229.1,55.42 C229.6,54.73 231.47,51.34 232,51.4 C232.53,51.46 234.79,55.29 235.4,56.1 C236.01,56.92 238.67,60.35 239.3,61.14 C239.93,61.94 242.41,65.09 243,65.68 C243.59,66.27 245.94,68.19 246.4,68.2 C246.86,68.21 248.12,66.32 248.5,65.8 C248.88,65.28 250.79,62.32 251,62" fill="none" stroke="#4f92c9" stroke-width="1.3" stroke-linejoin="round" stroke-linecap="round"/>
<path d="M42.4,154.4 C42.92,155.17 44.4,157.57 45.5,159 C46.6,160.43 47.83,161.8 49,163 C50.17,164.2 51.42,165.23 52.5,166.2 C53.58,167.17 54.58,168.1 55.5,168.8 C56.42,169.5 57.23,172.19 58,170.4 C58.77,168.61 59.47,162.89 60.1,158.08 C60.73,153.26 61.33,146.23 61.8,141.49 C62.27,136.75 62.3,132.72 62.9,129.64 C63.5,126.55 64.63,123.24 65.4,123 C66.17,122.76 66.82,125.06 67.5,128.18 C68.18,131.31 68.87,136.96 69.5,141.75 C70.13,146.54 70.65,152.84 71.3,156.91 C71.95,160.99 71.88,165.95 73.4,166.2 C74.92,166.45 78.47,158.89 80.4,158.4 C82.33,157.91 83.4,161.63 85,163.28 C86.6,164.93 88.38,166.91 90,168.3 C91.62,169.69 93.4,173.22 94.7,171.6 C96,169.98 97,163.68 97.8,158.6 C98.6,153.52 99.03,146.1 99.5,141.1 C99.97,136.1 100,131.85 100.6,128.6 C101.2,125.35 102.33,121.87 103.1,121.6 C103.87,121.33 104.52,123.73 105.2,126.96 C105.88,130.2 106.57,136.05 107.2,141 C107.83,145.95 108.27,152.47 109,156.69 C109.73,160.91 110.15,166.01 111.6,166.3 C113.05,166.59 115.92,158.9 117.7,158.4 C119.48,157.9 120.7,161.63 122.3,163.28 C123.9,164.93 125.62,166.91 127.3,168.3 C128.98,169.69 131,173.29 132.4,171.6 C133.8,169.91 134.87,163.43 135.7,158.18 C136.53,152.94 136.93,145.28 137.4,140.12 C137.87,134.96 137.9,130.58 138.5,127.22 C139.1,123.87 140.23,120.3 141,120 C141.77,119.7 142.42,122.15 143.1,125.4 C143.78,128.66 144.47,134.54 145.1,139.53 C145.73,144.52 146.12,151.08 146.9,155.32 C147.68,159.57 148.28,164.62 149.8,165 C151.32,165.38 154.2,158.01 156,157.6 C157.8,157.19 159,160.88 160.6,162.56 C162.2,164.23 163.87,166.24 165.6,167.65 C167.33,169.06 169.72,172.71 171,171 C172.28,169.29 172.63,162.7 173.3,157.38 C173.97,152.05 174.53,144.28 175,139.04 C175.47,133.8 175.5,129.34 176.1,125.94 C176.7,122.53 177.83,118.91 178.6,118.6 C179.37,118.29 180.02,120.76 180.7,124.05 C181.38,127.33 182.07,133.27 182.7,138.3 C183.33,143.34 183.65,149.96 184.5,154.24 C185.35,158.52 186.25,163.54 187.8,164 C189.35,164.46 192.03,157.3 193.8,157 C195.57,156.7 196.8,160.43 198.4,162.18 C200,163.93 201.7,166.03 203.4,167.5 C205.1,168.97 207.2,172.78 208.6,171 C210,169.22 210.98,162.35 211.8,156.8 C212.62,151.25 213.03,143.15 213.5,137.69 C213.97,132.23 214,127.59 214.6,124.04 C215.2,120.5 216.33,116.76 217.1,116.4 C217.87,116.04 218.52,118.57 219.2,121.87 C219.88,125.17 220.57,131.14 221.2,136.19 C221.83,141.24 222.2,147.89 223,152.2 C223.8,156.5 224.5,161.53 226,162 C227.5,162.47 230.23,155.24 232,155 C233.77,154.76 235,158.68 236.6,160.55 C238.2,162.43 240.03,164.68 241.6,166.25 C243.17,167.82 244.6,170.31 246,170 C247.4,169.69 249.33,165.33 250,164.4" fill="none" stroke="#4f92c9" stroke-width="1.3" stroke-linejoin="round" stroke-linecap="round"/>
<path d="M41.4,242.4 C41.75,243.5 42.77,246.8 43.5,249 C44.23,251.2 45.02,253.68 45.8,255.6 C46.58,257.52 47.38,259.03 48.2,260.5 C49.02,261.97 49.82,263.18 50.7,264.4 C51.58,265.62 52.48,266.82 53.5,267.8 C54.52,268.78 55.65,272.67 56.8,270.3 C57.95,267.93 59.45,259.82 60.4,253.57 C61.35,247.32 61.95,237.94 62.5,232.78 C63.05,227.63 63.3,224.84 63.7,222.64 C64.1,220.44 64.38,219.54 64.9,219.6 C65.42,219.66 66.2,220.78 66.8,222.98 C67.4,225.18 67.92,229.2 68.5,232.78 C69.08,236.36 69.83,241.34 70.3,244.44 C70.77,247.54 70.88,249.88 71.3,251.37 C71.72,252.86 72.1,254.6 72.8,253.4 C73.5,252.2 74.65,246.55 75.5,244.16 C76.35,241.77 76.98,240.1 77.9,239.08 C78.82,238.05 79.77,237.86 81,238 C82.23,238.14 83.92,238.87 85.3,239.91 C86.68,240.96 87.95,242.5 89.3,244.26 C90.65,246.03 92.32,248.67 93.4,250.53 C94.48,252.38 95.02,256.73 95.8,255.4 C96.58,254.07 97.37,247.34 98.1,242.53 C98.83,237.72 99.65,230.51 100.2,226.54 C100.75,222.58 101,220.43 101.4,218.74 C101.8,217.05 102.08,216.14 102.6,216.4 C103.12,216.66 103.9,217.77 104.5,220.32 C105.1,222.87 105.62,227.54 106.2,231.69 C106.78,235.84 107.45,241.62 108,245.21 C108.55,248.81 109,251.52 109.5,253.25 C110,254.98 110.3,256.97 111,255.6 C111.7,254.23 112.85,247.77 113.7,245.04 C114.55,242.31 115.33,240.41 116.1,239.23 C116.87,238.06 117.22,237.86 118.3,238 C119.38,238.14 121.22,238.95 122.6,240.09 C123.98,241.23 125.25,242.91 126.6,244.84 C127.95,246.77 129.55,249.65 130.7,251.68 C131.85,253.71 132.62,258.42 133.5,257 C134.38,255.58 135.23,248.32 136,243.14 C136.77,237.96 137.55,230.19 138.1,225.92 C138.65,221.65 138.9,219.34 139.3,217.52 C139.7,215.7 139.98,214.75 140.5,215 C141.02,215.25 141.8,216.4 142.4,219 C143,221.6 143.52,226.37 144.1,230.6 C144.68,234.83 145.3,240.73 145.9,244.4 C146.5,248.07 147.15,250.83 147.7,252.6 C148.25,254.37 148.5,256.4 149.2,255 C149.9,253.6 151.05,246.99 151.9,244.2 C152.75,241.41 153.52,239.46 154.3,238.26 C155.08,237.06 155.5,236.84 156.6,237 C157.7,237.16 159.52,238.02 160.9,239.24 C162.28,240.47 163.55,242.27 164.9,244.34 C166.25,246.42 167.8,249.51 169,251.69 C170.2,253.86 171.33,258.81 172.1,257.4 C172.87,255.99 173,248.51 173.6,243.21 C174.2,237.91 175.15,229.95 175.7,225.58 C176.25,221.21 176.5,218.84 176.9,216.98 C177.3,215.12 177.58,214.15 178.1,214.4 C178.62,214.65 179.4,215.82 180,218.46 C180.6,221.1 181.12,225.94 181.7,230.23 C182.28,234.53 182.83,240.52 183.5,244.24 C184.17,247.96 185.08,250.77 185.7,252.56 C186.32,254.36 186.5,256.39 187.2,255 C187.9,253.61 189.05,246.99 189.9,244.2 C190.75,241.41 191.55,239.46 192.3,238.26 C193.05,237.06 193.33,236.84 194.4,237 C195.47,237.16 197.32,238.02 198.7,239.24 C200.08,240.47 201.35,242.27 202.7,244.34 C204.05,246.42 205.63,249.51 206.8,251.69 C207.97,253.86 208.82,258.86 209.7,257.4 C210.58,255.94 211.35,248.35 212.1,242.95 C212.85,237.54 213.65,229.44 214.2,224.99 C214.75,220.53 215,218.13 215.4,216.23 C215.8,214.33 216.08,213.36 216.6,213.6 C217.12,213.84 217.9,215.03 218.5,217.68 C219.1,220.33 219.62,225.19 220.2,229.51 C220.78,233.83 221.38,239.85 222,243.59 C222.62,247.33 223.33,250.15 223.9,251.95 C224.47,253.75 224.7,255.58 225.4,254.4 C226.1,253.22 227.25,247.32 228.1,244.86 C228.95,242.4 229.75,240.67 230.5,239.61 C231.25,238.55 231.6,238.44 232.6,238.5 C233.6,238.56 235.18,239.32 236.5,240 C237.82,240.68 238.87,241.55 240.5,242.6 C242.13,243.65 244.8,246.23 246.3,246.3 C247.8,246.37 248.97,243.55 249.5,243" fill="none" stroke="#4f92c9" stroke-width="1.3" stroke-linejoin="round" stroke-linecap="round"/>
<path d="M41,339.4 C45.32,324.55 50.16,312.4 55.4,312.4 C69.13,312.4 77.55,368.8 86.6,368.8 C93.3,368.8 98.3,323.6 105,323.6 C112.6,323.6 117.73,366 124,366 C130.56,366 135.44,323.6 142,323.6 C149.36,323.6 154.84,366 162.2,366 C168.68,366 173.52,321.4 180,321.4 C187.43,321.4 192.97,363.6 200.4,363.6 C206.96,363.6 211.84,319.4 218.4,319.4 C228.09,319.4 235.31,362.4 245,362.4 C246.97,362.4 248.78,360.86 250.4,359.6" fill="none" stroke="#4f92c9" stroke-width="1.3" stroke-linejoin="round" stroke-linecap="round"/>
<path d="M464.3,49.6 C464.62,49.92 466.88,52.1 467.5,52.8 C468.12,53.5 469.9,55.73 470.5,56.6 C471.1,57.47 472.87,60.38 473.5,61.5 C474.13,62.62 476.3,68.74 476.8,67.8 C477.3,66.86 478.13,55.59 478.5,52.14 C478.87,48.69 480.14,36.48 480.5,33.35 C480.86,30.22 481.8,22.59 482.1,20.82 C482.4,19.05 483.21,15.86 483.5,15.6 C483.79,15.34 484.64,17.04 485,18.22 C485.36,19.4 486.63,25.43 487.1,27.39 C487.57,29.36 489.28,36.43 489.7,37.87 C490.12,39.31 490.78,41.99 491.3,41.8 C491.82,41.61 494.38,36.85 494.9,35.95 C495.42,35.05 496.04,32.39 496.5,32.8 C496.96,33.21 498.96,38.76 499.53,40.09 C500.11,41.42 501.77,45.19 502.27,46.08 C502.76,46.97 503.96,48.38 504.5,49 C505.04,49.62 507.06,51.59 507.66,52.24 C508.26,52.89 510.04,54.77 510.54,55.48 C511.05,56.19 512.23,58.4 512.68,59.37 C513.14,60.34 514.74,66.13 515.1,65.2 C515.46,64.27 515.98,53.41 516.3,50.08 C516.62,46.75 517.94,34.96 518.3,31.94 C518.66,28.91 519.6,21.55 519.9,19.84 C520.2,18.13 521.01,15.04 521.3,14.8 C521.59,14.56 522.44,16.24 522.8,17.42 C523.16,18.6 524.42,24.62 524.9,26.59 C525.38,28.55 527.17,35.63 527.6,37.07 C528.03,38.51 528.68,41.34 529.2,41 C529.72,40.66 532.28,34.84 532.8,33.72 C533.32,32.6 533.96,29.34 534.4,29.8 C534.84,30.26 536.66,36.74 537.19,38.28 C537.72,39.83 539.24,44.22 539.7,45.26 C540.16,46.29 541.26,47.93 541.75,48.65 C542.25,49.37 544.1,51.67 544.66,52.42 C545.22,53.17 546.85,55.36 547.31,56.19 C547.77,57.02 548.86,59.58 549.28,60.71 C549.7,61.84 551.17,68.25 551.5,67.5 C551.83,66.75 552.29,56.38 552.6,53.25 C552.91,50.12 554.24,39 554.6,36.15 C554.96,33.3 555.9,26.36 556.2,24.75 C556.5,23.14 557.31,20.18 557.6,20 C557.89,19.82 558.74,21.63 559.1,22.96 C559.46,24.29 560.72,31.1 561.2,33.32 C561.68,35.54 563.47,43.53 563.9,45.16 C564.33,46.79 564.97,49.94 565.5,49.6 C566.03,49.26 568.67,43 569.2,41.8 C569.73,40.6 570.32,37.26 570.8,37.6 C571.28,37.94 573.39,43.82 573.99,45.21 C574.6,46.59 576.35,50.53 576.88,51.46 C577.4,52.39 578.66,53.86 579.23,54.5 C579.8,55.14 581.92,57.2 582.56,57.88 C583.2,58.56 585.07,60.52 585.6,61.26 C586.13,62 587.37,64.3 587.85,65.32 C588.33,66.33 590.03,72.53 590.4,71.4 C590.77,70.27 591.28,57.83 591.6,54 C591.92,50.17 593.24,36.6 593.6,33.12 C593.96,29.64 594.9,21.17 595.2,19.2 C595.5,17.23 596.31,13.71 596.6,13.4 C596.89,13.09 597.74,14.9 598.1,16.12 C598.46,17.34 599.66,23.6 600.2,25.64 C600.74,27.68 603.01,35.02 603.5,36.52 C603.99,38.02 604.61,40.73 605.1,40.6 C605.59,40.48 607.91,36.09 608.4,35.27 C608.89,34.45 609.52,31.84 610,32.4 C610.48,32.96 612.6,39.32 613.21,40.86 C613.82,42.4 615.58,46.78 616.11,47.82 C616.63,48.85 617.9,50.49 618.47,51.2 C619.04,51.91 621.18,54.21 621.82,54.96 C622.46,55.71 624.34,57.89 624.87,58.72 C625.41,59.55 626.66,62.1 627.14,63.23 C627.62,64.36 629.31,71.02 629.7,70 C630.09,68.98 630.67,56.76 631,53.02 C631.33,49.28 632.64,36.04 633,32.64 C633.36,29.25 634.3,20.98 634.6,19.06 C634.9,17.14 635.71,13.69 636,13.4 C636.29,13.11 637.14,14.9 637.5,16.12 C637.86,17.34 639.07,23.6 639.6,25.64 C640.13,27.68 642.32,35.02 642.8,36.52 C643.28,38.02 643.9,40.69 644.4,40.6 C644.9,40.51 647.3,36.42 647.8,35.66 C648.3,34.9 648.94,32.5 649.4,33 C649.86,33.5 651.79,39.26 652.35,40.65 C652.91,42.04 654.53,46 655.01,46.94 C655.49,47.88 656.66,49.35 657.18,50 C657.71,50.65 659.67,52.72 660.26,53.4 C660.85,54.08 662.58,56.05 663.07,56.8 C663.55,57.55 664.7,59.86 665.15,60.88 C665.59,61.9 667.01,68.39 667.5,67 C667.99,65.61 669.41,51 670,47 C670.59,43 673.06,29 673.4,27" fill="none" stroke="#4f92c9" stroke-width="1.3" stroke-linejoin="round" stroke-linecap="round"/>
<path d="M464.9,148.4 C465.42,148.92 466.98,150.32 468,151.5 C469.02,152.68 470,154 471,155.5 C472,157 472.95,158.6 474,160.5 C475.05,162.4 476.38,168.34 477.3,166.9 C478.22,165.46 478.87,157.28 479.5,151.84 C480.13,146.4 480.62,139.21 481.1,134.27 C481.58,129.33 481.93,125.15 482.4,122.22 C482.87,119.29 483.28,116.91 483.9,116.7 C484.52,116.49 485.32,118.5 486.1,120.97 C486.88,123.44 487.7,128.04 488.6,131.51 C489.5,134.98 490.62,141.24 491.5,141.8 C492.38,142.36 493.07,136.45 493.9,134.87 C494.73,133.28 495.57,131.73 496.5,132.3 C497.43,132.87 498.45,135.94 499.5,138.28 C500.55,140.62 501.55,144.26 502.8,146.35 C504.05,148.45 505.75,149.19 507,150.84 C508.25,152.48 508.95,154.33 510.3,156.22 C511.65,158.11 513.93,163.56 515.1,162.2 C516.27,160.84 516.67,153.15 517.3,148.04 C517.93,142.93 518.42,136.16 518.9,131.52 C519.38,126.88 519.73,122.95 520.2,120.19 C520.67,117.44 521.08,115.15 521.7,115 C522.32,114.85 523.12,116.8 523.9,119.27 C524.68,121.74 525.48,126.34 526.4,129.81 C527.32,133.28 528.5,139.67 529.4,140.1 C530.3,140.53 530.97,134.13 531.8,132.36 C532.63,130.6 533.47,128.81 534.4,129.5 C535.33,130.19 536.35,133.77 537.4,136.52 C538.45,139.27 539.45,143.54 540.7,146 C541.95,148.45 543.65,149.33 544.9,151.26 C546.15,153.19 547.1,155.36 548.2,157.58 C549.3,159.8 550.6,165.61 551.5,164.6 C552.4,163.59 552.98,156.24 553.6,151.52 C554.22,146.8 554.72,140.55 555.2,136.26 C555.68,131.97 556.03,128.34 556.5,125.8 C556.97,123.25 557.38,121.01 558,121 C558.62,120.99 559.42,123.01 560.2,125.76 C560.98,128.51 561.78,133.65 562.7,137.52 C563.62,141.39 564.8,148.5 565.7,149 C566.6,149.5 567.25,142.47 568.1,140.53 C568.95,138.6 569.85,136.84 570.8,137.4 C571.75,137.96 572.75,141.37 573.8,143.92 C574.85,146.47 575.85,150.44 577.1,152.72 C578.35,155 580.05,155.82 581.3,157.61 C582.55,159.41 583.08,161.42 584.6,163.48 C586.12,165.54 589.07,171.74 590.4,170 C591.73,168.26 591.97,159.15 592.6,153.02 C593.23,146.89 593.72,138.78 594.2,133.21 C594.68,127.64 595.03,122.93 595.5,119.63 C595.97,116.32 596.38,113.7 597,113.4 C597.62,113.1 598.42,115.28 599.2,117.85 C599.98,120.43 600.68,125.23 601.7,128.86 C602.72,132.48 604.3,138.73 605.3,139.6 C606.3,140.47 606.92,135.32 607.7,134.05 C608.48,132.79 609.12,131.18 610,132 C610.88,132.82 611.95,136.26 613,139 C614.05,141.74 615.05,146 616.3,148.45 C617.55,150.9 619.25,151.77 620.5,153.7 C621.75,155.62 622.27,157.78 623.8,160 C625.33,162.22 628.33,168.48 629.7,167 C631.07,165.52 631.35,156.84 632,151.1 C632.65,145.36 633.12,137.76 633.6,132.55 C634.08,127.34 634.43,122.92 634.9,119.83 C635.37,116.74 635.78,114.23 636.4,114 C637.02,113.77 637.82,115.86 638.6,118.42 C639.38,120.98 640.1,125.74 641.1,129.34 C642.1,132.94 643.62,139.03 644.6,140 C645.58,140.97 646.2,136.28 647,135.18 C647.8,134.08 648.5,132.68 649.4,133.4 C650.3,134.12 651.35,137.12 652.4,139.52 C653.45,141.92 654.45,145.64 655.7,147.78 C656.95,149.92 658.65,150.69 659.9,152.37 C661.15,154.06 661.93,155.94 663.2,157.88 C664.47,159.82 666.37,165.31 667.5,164 C668.63,162.69 669.08,156.33 670,150 C670.92,143.67 672.5,130 673,126" fill="none" stroke="#4f92c9" stroke-width="1.3" stroke-linejoin="round" stroke-linecap="round"/>
<path d="M464.5,248 C464.75,247.6 465.45,246.2 466,245.6 C466.55,245 467.2,244.47 467.8,244.4 C468.4,244.33 468.98,244.35 469.6,245.2 C470.22,246.05 470.77,247.45 471.5,249.5 C472.23,251.55 473.05,254.3 474,257.5 C474.95,260.7 476.27,269.38 477.2,268.7 C478.13,268.02 478.93,259.35 479.6,253.4 C480.27,247.45 480.75,238.19 481.2,233 C481.65,227.81 481.92,224.84 482.3,222.29 C482.68,219.74 482.98,217.84 483.5,217.7 C484.02,217.56 484.75,218.67 485.4,221.44 C486.05,224.2 486.73,229.46 487.4,234.3 C488.07,239.14 488.72,246.33 489.4,250.48 C490.08,254.63 490.73,258.85 491.5,259.2 C492.27,259.55 493.08,255.33 494,252.56 C494.92,249.79 495.99,243.93 497,242.6 C498.01,241.27 499.05,243.85 500.08,244.58 C501.1,245.31 502.01,246.81 503.15,247 C504.3,247.19 505.99,245.55 506.96,245.7 C507.92,245.85 508.34,246.4 508.95,247.9 C509.55,249.4 509.55,252.05 510.58,254.7 C511.6,257.35 513.96,264.61 515.1,263.8 C516.24,262.99 516.75,255.28 517.4,249.85 C518.05,244.43 518.55,235.98 519,231.25 C519.45,226.52 519.72,223.81 520.1,221.49 C520.48,219.16 520.78,217.34 521.3,217.3 C521.82,217.26 522.55,218.33 523.2,221.27 C523.85,224.21 524.53,229.8 525.2,234.94 C525.87,240.08 526.5,247.73 527.2,252.14 C527.9,256.55 528.62,261.26 529.4,261.4 C530.18,261.54 530.98,256.5 531.9,253 C532.82,249.5 533.93,242 534.9,240.4 C535.87,238.8 536.62,242.3 537.72,243.41 C538.83,244.53 540.52,246.57 541.54,247.1 C542.56,247.63 543.17,246.32 543.86,246.6 C544.56,246.88 545.14,247.3 545.69,248.8 C546.24,250.3 546.22,252.83 547.18,255.6 C548.15,258.37 550.41,266.07 551.5,265.4 C552.59,264.73 553.07,256.97 553.7,251.6 C554.33,246.23 554.85,237.88 555.3,233.2 C555.75,228.52 556.02,225.84 556.4,223.54 C556.78,221.24 557.08,219.45 557.6,219.4 C558.12,219.35 558.85,220.39 559.5,223.23 C560.15,226.07 560.83,231.47 561.5,236.44 C562.17,241.41 562.8,248.79 563.5,253.05 C564.2,257.31 564.92,261.87 565.7,262 C566.48,262.13 567.27,257.24 568.2,253.84 C569.13,250.44 570.24,243.01 571.3,241.6 C572.36,240.19 573.37,243.98 574.55,245.38 C575.72,246.78 576.93,249.56 578.37,250 C579.8,250.44 582,247.97 583.14,248 C584.29,248.03 584.61,248.7 585.24,250.2 C585.88,251.7 586.1,254.63 586.96,257 C587.82,259.37 589.44,265.77 590.4,264.4 C591.36,263.03 592.05,254.87 592.7,248.8 C593.35,242.73 593.85,233.29 594.3,228 C594.75,222.71 595.02,219.68 595.4,217.08 C595.78,214.48 596.08,212.48 596.6,212.4 C597.12,212.32 597.85,213.49 598.5,216.59 C599.15,219.7 599.83,225.6 600.5,231.04 C601.17,236.48 601.7,244.55 602.5,249.21 C603.3,253.87 604.42,258.4 605.3,259 C606.18,259.6 606.93,255.41 607.8,252.84 C608.67,250.27 609.51,244.64 610.5,243.6 C611.49,242.56 612.52,245.47 613.76,246.57 C615.01,247.67 616.36,250.11 617.99,250.2 C619.62,250.29 622.28,247.25 623.56,247.1 C624.84,246.95 625.03,247.8 625.67,249.3 C626.31,250.8 626.72,253.82 627.4,256.1 C628.07,258.38 628.92,264.25 629.7,263 C630.48,261.75 631.43,254.2 632.1,248.6 C632.77,243 633.25,234.28 633.7,229.4 C634.15,224.52 634.42,221.72 634.8,219.32 C635.18,216.92 635.48,215.04 636,215 C636.52,214.96 637.25,216.05 637.9,219.05 C638.55,222.05 639.23,227.75 639.9,233 C640.57,238.25 641.12,246.05 641.9,250.55 C642.68,255.05 643.73,259.56 644.6,260 C645.47,260.44 646.22,256.03 647.1,253.2 C647.98,250.37 649,244.27 649.9,243 C650.8,241.73 651.48,244.67 652.5,245.6 C653.52,246.53 654.83,248.2 656,248.6 C657.17,249 658.33,248.2 659.5,248 C660.67,247.8 662.05,247.07 663,247.4 C663.95,247.73 664.47,248.57 665.2,250 C665.93,251.43 666.68,256.5 667.4,256 C668.12,255.5 668.9,249.33 669.5,247 C670.1,244.67 670.42,241.83 671,242 C671.58,242.17 672.67,247 673,248" fill="none" stroke="#4f92c9" stroke-width="1.3" stroke-linejoin="round" stroke-linecap="round"/>
<path d="M465,348.6 C466.98,355.42 469.2,361 471.6,361 C478.81,361 484.19,323.6 491.4,323.6 C498.39,323.6 503.61,356.6 510.6,356.6 C517.41,356.6 522.49,320.5 529.3,320.5 C535.6,320.5 540.3,357.2 546.6,357.2 C552.86,357.2 557.54,331.9 563.8,331.9 C571.81,331.9 577.79,368.4 585.8,368.4 C592.21,368.4 596.99,321.3 603.4,321.3 C611.34,321.3 617.26,366.4 625.2,366.4 C631.32,366.4 635.88,321.3 642,321.3 C650.01,321.3 655.99,366 664,366 C666.91,366 669.6,336.19 672,311.8" fill="none" stroke="#4f92c9" stroke-width="1.3" stroke-linejoin="round" stroke-linecap="round"/>
<circle cx="57.8" cy="67.9" r="1.9" fill="#000"/>
<path d="M68.5,17.8 L67.25,18.29 L67.59,19.2 L66.17,18.98 L65.4,19.78 L64.63,18.98 L63.21,19.2 L63.55,18.29 L62.3,17.8 L63.55,17.31 L63.21,16.4 L64.63,16.62 L65.4,15.82 L66.17,16.62 L67.59,16.4 L67.25,17.31Z" fill="#8a6c14" stroke="#5a4610" stroke-width="0.45"/>
<ellipse cx="65.4" cy="17.8" rx="1.0" ry="0.8" fill="#d8b434"/>
<path d="M73.4,61.4 L75.4,64.8 L71.4,64.8 Z" fill="#3c7040" stroke="#1b2c4c" stroke-width="0.9"/>
<path d="M80.4,52.6 L82.6,54.7 L80.4,56.8 L78.2,54.7 Z" fill="#c4c82c" stroke="#223056" stroke-width="1.0" stroke-linejoin="miter"/>
<rect x="93.2" y="67.3" width="3.0" height="3.0" fill="#ee1419" stroke="#2a2f55" stroke-width="0.75"/>
<circle cx="106.8" cy="68.9" r="1.9" fill="#000"/>
<path d="M106.2,17.6 L104.95,18.09 L105.29,19 L103.87,18.78 L103.1,19.58 L102.33,18.78 L100.91,19 L101.25,18.09 L100,17.6 L101.25,17.11 L100.91,16.2 L102.33,16.42 L103.1,15.62 L103.87,16.42 L105.29,16.2 L104.95,17.11Z" fill="#8a6c14" stroke="#5a4610" stroke-width="0.45"/>
<ellipse cx="103.1" cy="17.6" rx="1.0" ry="0.8" fill="#d8b434"/>
<path d="M111.6,61.5 L113.6,64.9 L109.6,64.9 Z" fill="#3c7040" stroke="#1b2c4c" stroke-width="0.9"/>
<path d="M117.7,52.5 L119.9,54.6 L117.7,56.7 L115.5,54.6 Z" fill="#c4c82c" stroke="#223056" stroke-width="1.0" stroke-linejoin="miter"/>
<rect x="130.9" y="67.5" width="3.0" height="3.0" fill="#ee1419" stroke="#2a2f55" stroke-width="0.75"/>
<circle cx="143.9" cy="69.1" r="1.9" fill="#000"/>
<path d="M144.1,17.3 L142.85,17.79 L143.19,18.7 L141.77,18.48 L141,19.28 L140.23,18.48 L138.81,18.7 L139.15,17.79 L137.9,17.3 L139.15,16.81 L138.81,15.9 L140.23,16.12 L141,15.32 L141.77,16.12 L143.19,15.9 L142.85,16.81Z" fill="#8a6c14" stroke="#5a4610" stroke-width="0.45"/>
<ellipse cx="141" cy="17.3" rx="1.0" ry="0.8" fill="#d8b434"/>
<path d="M149.8,60.5 L151.8,63.9 L147.8,63.9 Z" fill="#3c7040" stroke="#1b2c4c" stroke-width="0.9"/>
<path d="M156,51.9 L158.2,54 L156,56.1 L153.8,54 Z" fill="#c4c82c" stroke="#223056" stroke-width="1.0" stroke-linejoin="miter"/>
<rect x="169.5" y="67.5" width="3.0" height="3.0" fill="#ee1419" stroke="#2a2f55" stroke-width="0.75"/>
<circle cx="181.6" cy="69.1" r="1.9" fill="#000"/>
<path d="M181.7,16 L180.45,16.49 L180.79,17.4 L179.37,17.18 L178.6,17.98 L177.83,17.18 L176.41,17.4 L176.75,16.49 L175.5,16 L176.75,15.51 L176.41,14.6 L177.83,14.82 L178.6,14.02 L179.37,14.82 L180.79,14.6 L180.45,15.51Z" fill="#8a6c14" stroke="#5a4610" stroke-width="0.45"/>
<ellipse cx="178.6" cy="16" rx="1.0" ry="0.8" fill="#d8b434"/>
<path d="M187.8,59.1 L189.8,62.5 L185.8,62.5 Z" fill="#3c7040" stroke="#1b2c4c" stroke-width="0.9"/>
<path d="M193.8,50.9 L196,53 L193.8,55.1 L191.6,53 Z" fill="#c4c82c" stroke="#223056" stroke-width="1.0" stroke-linejoin="miter"/>
<rect x="207.1" y="67.5" width="3.0" height="3.0" fill="#ee1419" stroke="#2a2f55" stroke-width="0.75"/>
<circle cx="219.5" cy="69.1" r="1.9" fill="#000"/>
<path d="M220.2,12.4 L218.95,12.89 L219.29,13.8 L217.87,13.58 L217.1,14.38 L216.33,13.58 L214.91,13.8 L215.25,12.89 L214,12.4 L215.25,11.91 L214.91,11 L216.33,11.22 L217.1,10.42 L217.87,11.22 L219.29,11 L218.95,11.91Z" fill="#8a6c14" stroke="#5a4610" stroke-width="0.45"/>
<ellipse cx="217.1" cy="12.4" rx="1.0" ry="0.8" fill="#d8b434"/>
<path d="M226,57.7 L228,61.1 L224,61.1 Z" fill="#3c7040" stroke="#1b2c4c" stroke-width="0.9"/>
<path d="M232,49.3 L234.2,51.4 L232,53.5 L229.8,51.4 Z" fill="#c4c82c" stroke="#223056" stroke-width="1.0" stroke-linejoin="miter"/>
<rect x="244.9" y="66.7" width="3.0" height="3.0" fill="#ee1419" stroke="#2a2f55" stroke-width="0.75"/>
<circle cx="256.7" cy="68.3" r="1.9" fill="#000"/>
<circle cx="476.8" cy="67.8" r="1.9" fill="#000"/>
<path d="M486.6,15.6 L485.35,16.09 L485.69,17 L484.27,16.78 L483.5,17.58 L482.73,16.78 L481.31,17 L481.65,16.09 L480.4,15.6 L481.65,15.11 L481.31,14.2 L482.73,14.42 L483.5,13.62 L484.27,14.42 L485.69,14.2 L485.35,15.11Z" fill="#8a6c14" stroke="#5a4610" stroke-width="0.45"/>
<ellipse cx="483.5" cy="15.6" rx="1.0" ry="0.8" fill="#d8b434"/>
<path d="M491.3,39.9 L493.3,43.3 L489.3,43.3 Z" fill="#3c7040" stroke="#1b2c4c" stroke-width="0.9"/>
<path d="M496.5,30.7 L498.7,32.8 L496.5,34.9 L494.3,32.8 Z" fill="#c4c82c" stroke="#223056" stroke-width="1.0" stroke-linejoin="miter"/>
<rect x="513.6" y="63.7" width="3.0" height="3.0" fill="#ee1419" stroke="#2a2f55" stroke-width="0.75"/>
<circle cx="527" cy="65" r="1.9" fill="#000"/>
<path d="M524.4,14.8 L523.15,15.29 L523.49,16.2 L522.07,15.98 L521.3,16.78 L520.53,15.98 L519.11,16.2 L519.45,15.29 L518.2,14.8 L519.45,14.31 L519.11,13.4 L520.53,13.62 L521.3,12.82 L522.07,13.62 L523.49,13.4 L523.15,14.31Z" fill="#8a6c14" stroke="#5a4610" stroke-width="0.45"/>
<ellipse cx="521.3" cy="14.8" rx="1.0" ry="0.8" fill="#d8b434"/>
<path d="M529.2,39.1 L531.2,42.5 L527.2,42.5 Z" fill="#3c7040" stroke="#1b2c4c" stroke-width="0.9"/>
<path d="M534.4,27.7 L536.6,29.8 L534.4,31.9 L532.2,29.8 Z" fill="#c4c82c" stroke="#223056" stroke-width="1.0" stroke-linejoin="miter"/>
<rect x="550" y="66" width="3.0" height="3.0" fill="#ee1419" stroke="#2a2f55" stroke-width="0.75"/>
<circle cx="564.4" cy="67.3" r="1.9" fill="#000"/>
<path d="M560.7,20 L559.45,20.49 L559.79,21.4 L558.37,21.18 L557.6,21.98 L556.83,21.18 L555.41,21.4 L555.75,20.49 L554.5,20 L555.75,19.51 L555.41,18.6 L556.83,18.82 L557.6,18.02 L558.37,18.82 L559.79,18.6 L559.45,19.51Z" fill="#8a6c14" stroke="#5a4610" stroke-width="0.45"/>
<ellipse cx="557.6" cy="20" rx="1.0" ry="0.8" fill="#d8b434"/>
<path d="M565.5,47.7 L567.5,51.1 L563.5,51.1 Z" fill="#3c7040" stroke="#1b2c4c" stroke-width="0.9"/>
<path d="M570.8,35.5 L573,37.6 L570.8,39.7 L568.6,37.6 Z" fill="#c4c82c" stroke="#223056" stroke-width="1.0" stroke-linejoin="miter"/>
<rect x="588.9" y="69.9" width="3.0" height="3.0" fill="#ee1419" stroke="#2a2f55" stroke-width="0.75"/>
<circle cx="603.4" cy="71.2" r="1.9" fill="#000"/>
<path d="M599.7,13.4 L598.45,13.89 L598.79,14.8 L597.37,14.58 L596.6,15.38 L595.83,14.58 L594.41,14.8 L594.75,13.89 L593.5,13.4 L594.75,12.91 L594.41,12 L595.83,12.22 L596.6,11.42 L597.37,12.22 L598.79,12 L598.45,12.91Z" fill="#8a6c14" stroke="#5a4610" stroke-width="0.45"/>
<ellipse cx="596.6" cy="13.4" rx="1.0" ry="0.8" fill="#d8b434"/>
<path d="M605.1,38.7 L607.1,42.1 L603.1,42.1 Z" fill="#3c7040" stroke="#1b2c4c" stroke-width="0.9"/>
<path d="M610,30.3 L612.2,32.4 L610,34.5 L607.8,32.4 Z" fill="#c4c82c" stroke="#223056" stroke-width="1.0" stroke-linejoin="miter"/>
<rect x="628.2" y="68.5" width="3.0" height="3.0" fill="#ee1419" stroke="#2a2f55" stroke-width="0.75"/>
<circle cx="642" cy="69.8" r="1.9" fill="#000"/>
<path d="M639.1,13.4 L637.85,13.89 L638.19,14.8 L636.77,14.58 L636,15.38 L635.23,14.58 L633.81,14.8 L634.15,13.89 L632.9,13.4 L634.15,12.91 L633.81,12 L635.23,12.22 L636,11.42 L636.77,12.22 L638.19,12 L637.85,12.91Z" fill="#8a6c14" stroke="#5a4610" stroke-width="0.45"/>
<ellipse cx="636" cy="13.4" rx="1.0" ry="0.8" fill="#d8b434"/>
<path d="M644.4,38.7 L646.4,42.1 L642.4,42.1 Z" fill="#3c7040" stroke="#1b2c4c" stroke-width="0.9"/>
<path d="M649.4,30.9 L651.6,33 L649.4,35.1 L647.2,33 Z" fill="#c4c82c" stroke="#223056" stroke-width="1.0" stroke-linejoin="miter"/>
<rect x="666" y="65.5" width="3.0" height="3.0" fill="#ee1419" stroke="#2a2f55" stroke-width="0.75"/>
<circle cx="680" cy="66.8" r="1.9" fill="#000"/>
<rect x="271.7" y="12.55" width="147.7" height="146.1" fill="none" stroke="#4d5d80" stroke-width="1.15"/>
<circle cx="280.7" cy="22.9" r="1.75" fill="#000"/>
<ellipse cx="280.8" cy="33.6" rx="2.8" ry="1.3" fill="#8c7020" stroke="#6b5516" stroke-width="0.4"/>
<ellipse cx="280.8" cy="33.6" rx="1.2" ry="0.6" fill="#c8a838"/>
<path d="M280.8,44.3 L282.4,47.3 L279.2,47.3 Z" fill="#3c6f6e" stroke="#1b2c4c" stroke-width="0.6"/>
<path d="M280.8,53.3 L282.6,55.1 L280.8,56.9 L279.0,55.1 Z" fill="#c4c82c" stroke="#223056" stroke-width="0.8"/>
<rect x="279.2" y="64.3" width="3.1" height="3.1" fill="#ee1419" stroke="#2a2f55" stroke-width="0.7"/>
<text x="287.8" y="25.6" class="lg">Systolic phase onset</text>
<text x="287.8" y="36.3" class="lg">Systolic phase peak</text>
<text x="287.8" y="48" class="lg">Dicrotic notch</text>
<text x="287.8" y="58.6" class="lg">Diastolic phase peak</text>
<text x="287.8" y="68.6" class="lg">Diastolic phase endpoint</text>
<rect x="278.3" y="80.1" width="3.4" height="3.4" fill="#f0141c" stroke="#4a4a70" stroke-width="0.6"/>
<rect x="284.2" y="80.1" width="4.6" height="3.4" fill="#3d5080" stroke="#2a3560" stroke-width="0.5"/>
<line x1="285" y1="82.2" x2="288" y2="82.2" stroke="#7d8cb0" stroke-width="0.5"/>
<circle cx="292.9" cy="81.6" r="2.05" fill="#000"/>
<text x="298.4" y="84" class="lg">The</text><text x="314.71" y="84" class="lg">diastolic</text><text x="345.59" y="84" class="lg">phase</text><text x="367.65" y="84" class="lg">endpoint</text><text x="399.42" y="84" class="lg">in</text>
<text x="298.4" y="94" class="lg">one</text><text x="312.81" y="94" class="lg">cardiac</text><text x="338.69" y="94" class="lg">cycle</text><text x="358.39" y="94" class="lg">is</text><text x="366.62" y="94" class="lg">equal</text><text x="386.77" y="94" class="lg">to</text><text x="395.89" y="94" class="lg">the</text>
<text x="298.4" y="103.6" class="lg">systolic</text><text x="326.38" y="103.6" class="lg">phase</text><text x="348.17" y="103.6" class="lg">onset</text><text x="368.64" y="103.6" class="lg">in</text><text x="378.51" y="103.6" class="lg">the</text><text x="391.91" y="103.6" class="lg">next</text>
<text x="298.4" y="112.6" class="lg">cardiac cycle</text>
<text x="300" y="124.6" class="lg">Zero-normalized</text><text x="358.18" y="124.6" class="lg">pressure</text><text x="389.44" y="124.6" class="lg">axis</text><text x="407.02" y="124.6" class="lg">in</text>
<text x="300" y="134" class="lg">the</text><text x="314.3" y="134" class="lg">case</text><text x="332.57" y="134" class="lg">of</text><text x="343.78" y="134" class="lg">the</text><text x="358.09" y="134" class="lg">ABP</text><text x="378.14" y="134" class="lg">signal</text><text x="401.72" y="134" class="lg">and</text>
<text x="300" y="144" class="lg">zero-normalized</text><text x="355.53" y="144" class="lg">amplitude</text><text x="390.77" y="144" class="lg">axis</text><text x="407.02" y="144" class="lg">in</text>
<text x="300" y="153.2" class="lg">the case of the PPG signal</text>
<line x1="279.0" y1="122.0" x2="296.2" y2="122.0" stroke="#000" stroke-width="0.9" stroke-dasharray="2.3,1.0"/>
</svg>
</body></html>
